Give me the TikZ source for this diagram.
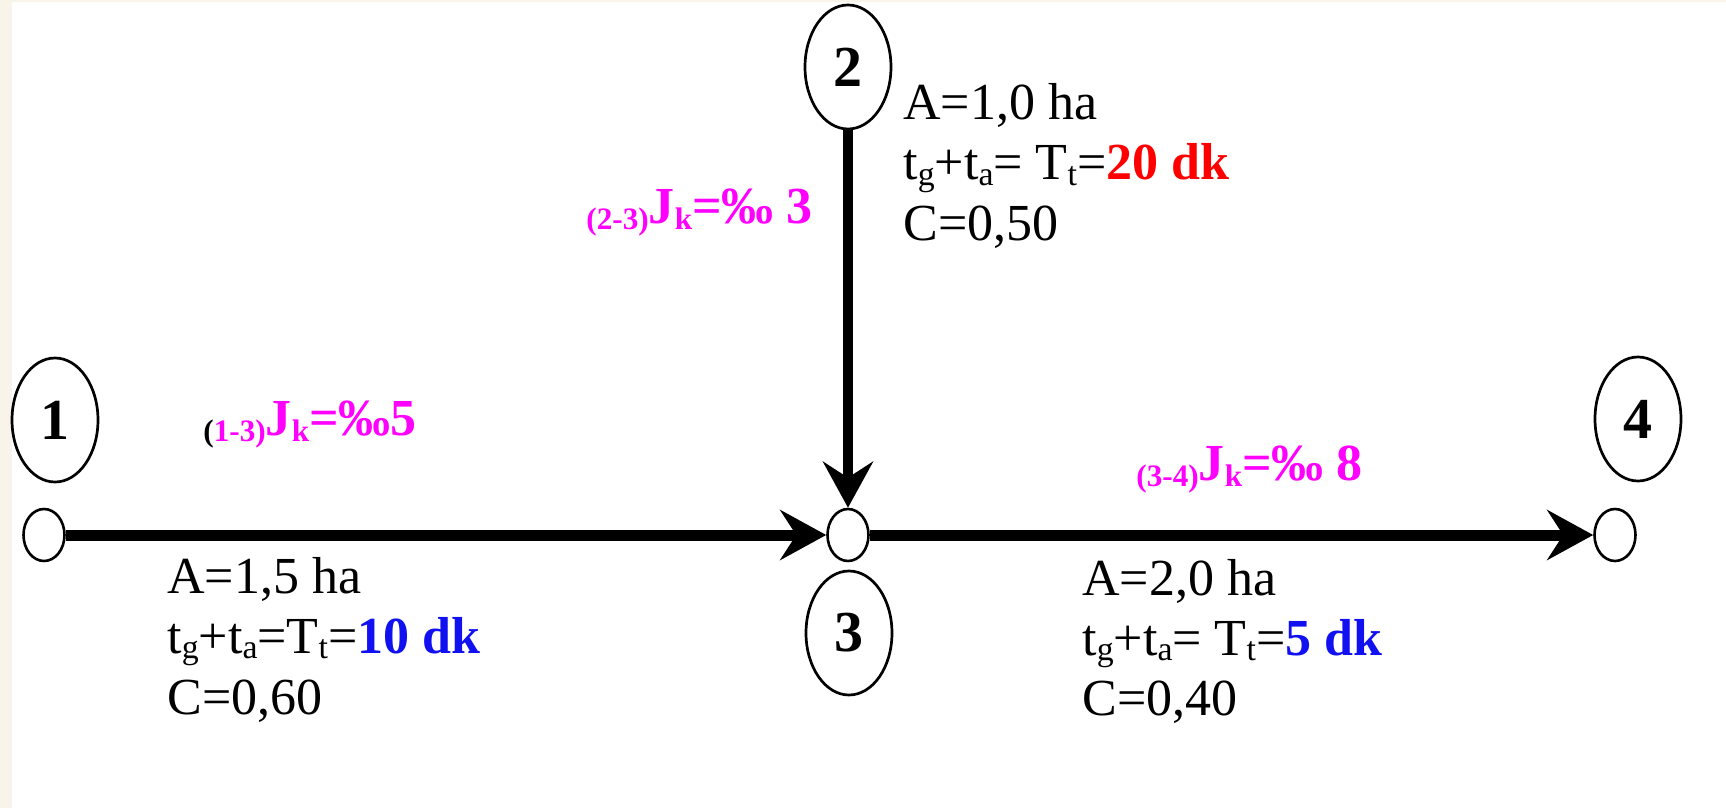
\documentclass[tikz,border=0pt]{standalone}
\usepackage{fontspec}
\setmainfont{Liberation Serif}
\usepackage{graphicx}
\usepackage{xcolor}
\usepackage{tikz}
\usetikzlibrary{arrows.meta,shapes.geometric}
\definecolor{PageCream}{HTML}{F8F4EA}
\definecolor{TimeRed}{HTML}{FF0000}
\definecolor{TimeBlue}{HTML}{1010F0}
\definecolor{SlopeMagenta}{HTML}{FF00FF}
\newcommand*\subtxt[1]{\raisebox{-0.1em}{\scalebox{0.65}{#1}}}
\newcommand*\slopesub[1]{\raisebox{-0.12em}{\scalebox{0.6}{#1}}}
\tikzset{
  nodeoval/.style={draw,ellipse,line width=1.35pt,minimum width=43pt,minimum height=62pt,inner sep=0pt,font=\fontsize{29}{29}\selectfont\bfseries},
  joint/.style={draw,ellipse,line width=1.3pt,minimum width=20.5pt,minimum height=26pt,inner sep=0pt,fill=white},
  flowarrow/.style={-{Stealth[length=23pt,width=25pt,inset=8pt]},line width=5.5pt},
  datatext/.style={anchor=base west,inner sep=0pt,font=\fontsize{26}{26}\selectfont},
  slopetext/.style={anchor=base west,inner sep=0pt,text=SlopeMagenta,font=\fontsize{26}{26}\selectfont\bfseries}
}
\begin{document}
\begin{tikzpicture}[x=0.5pt,y=-0.5pt]
\fill[PageCream] (0,0) rectangle (1726,808);
\fill[white] (12,2) rectangle (1726,808);
\useasboundingbox (0,0) rectangle (1726,808);
% numbered ovals
\node[nodeoval] (n1) at (55,420) {1};
\node[nodeoval] (n2) at (848,67) {2};
\node[nodeoval] (n3) at (849,633) {3};
\node[nodeoval] (n4) at (1638,419) {4};
% joints on the line
\node[joint] (j1) at (44,535) {};
\node[joint] (j3) at (848,535) {};
\node[joint] (j4) at (1615,535) {};
% pipes
\draw[flowarrow] (j1.east) -- (j3.west);
\draw[flowarrow] (j3.east) -- (j4.west);
\draw[flowarrow,line width=5pt] (n2.south) -- (j3.north);
% area data, one node per line
\node[datatext] (d23a) at (903,120) {A=1,0 ha};
\node[datatext] (d23t) at (903,180) {t\subtxt{g}+t\subtxt{a}= T\subtxt{t}=\textcolor{TimeRed}{\textbf{20 dk}}};
\node[datatext] (d23c) at (903,241) {C=0,50};
\node[datatext] (d13a) at (167,593) {A=1,5 ha};
\node[datatext] (d13t) at (167,653) {t\subtxt{g}+t\subtxt{a}=T\subtxt{t}=\textcolor{TimeBlue}{\textbf{10 dk}}};
\node[datatext] (d13c) at (167,714) {C=0,60};
\node[datatext] (d34a) at (1082,595) {A=2,0 ha};
\node[datatext] (d34t) at (1082,655) {t\subtxt{g}+t\subtxt{a}= T\subtxt{t}=\textcolor{TimeBlue}{\textbf{5 dk}}};
\node[datatext] (d34c) at (1082,715) {C=0,40};
% slopes
\node[slopetext] (s23) at (586,223) {\slopesub{(2-3)}J\slopesub{k}=‰ 3};
\node[slopetext] (s13) at (203,435) {\slopesub{\textcolor{black}{(}1-3)}J\slopesub{k}=‰5};
\node[slopetext] (s34) at (1136,480) {\slopesub{(3-4)}J\slopesub{k}=‰ 8};
\end{tikzpicture}
\end{document}
